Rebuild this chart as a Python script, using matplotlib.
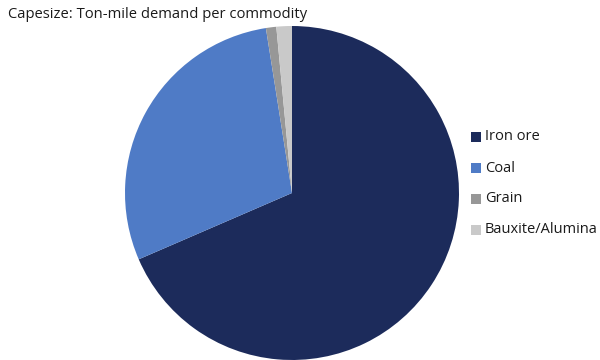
import matplotlib
matplotlib.use("Agg")
import matplotlib.pyplot as plt

categories = ["Iron ore", "Coal", "Grain", "Bauxite/Alumina"]
values = [68.5, 29.0, 1.0, 1.5]
colors = ["#1c2b5b", "#4f7bc6", "#979797", "#c9c9c9"]
title = "Capesize: Ton-mile demand per commodity"

plt.rcParams['font.family'] = ['Open Sans', 'DejaVu Sans']

fig = plt.figure(figsize=(6, 3.6), dpi=100)
ax = fig.add_axes([125/600, 0/360, 334/600, 334/360])
ax.pie(values, colors=colors, startangle=90, counterclock=False, radius=1,
       wedgeprops=dict(edgecolor="none", linewidth=0))
ax.set_xlim(-1, 1)
ax.set_ylim(-1, 1)
ax.set_aspect("equal")
ax.axis("off")

fig.text(8/600, 1 - 14/360, title, fontsize=10.6, color="#1a1a1a", va="center", ha="left")

y0 = 137
for i, (c, col) in enumerate(zip(categories, colors)):
    y = y0 + i * 31
    fig.patches.append(plt.Rectangle((471/600, 1 - (y + 5) / 360), 10/600, 10/360,
                                     transform=fig.transFigure, facecolor=col, edgecolor="none"))
    fig.text(485/600, 1 - y/360, c, fontsize=10.5, color="#1a1a1a", va="center", ha="left")

fig.savefig("out.png", dpi=100)
